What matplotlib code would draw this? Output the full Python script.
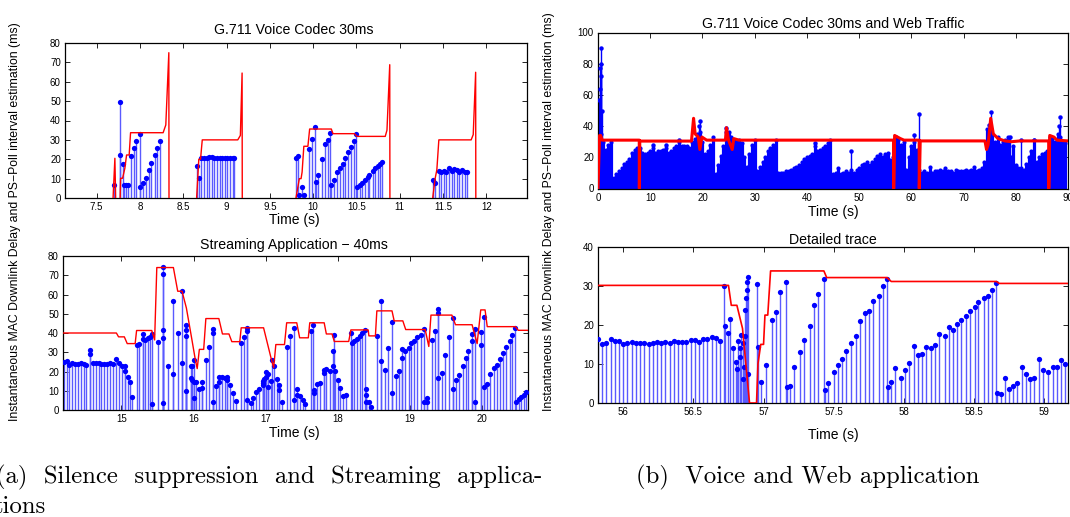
import matplotlib
matplotlib.use("Agg")
import matplotlib.pyplot as plt
from matplotlib.ticker import FuncFormatter, MultipleLocator
import numpy as np

plt.rcParams["font.family"] = ["Liberation Sans", "DejaVu Sans"]

# ---- (a) top: G.711 voice codec 30ms with silence suppression ----
voice_t = [7.70, 7.77, 7.775, 7.80, 7.82, 7.84, 7.86, 7.90, 7.93, 7.96, 8.00, 8.005,
           8.03, 8.07, 8.10, 8.13, 8.17, 8.20, 8.23,
           8.66, 8.68, 8.71, 8.74, 8.77, 8.80, 8.83, 8.86, 8.89, 8.92, 8.95, 8.98, 9.01, 9.04, 9.07, 9.09,
           9.80, 9.83, 9.84, 9.87, 9.90, 9.95, 9.99, 10.02, 10.03, 10.06, 10.10, 10.14, 10.17, 10.20,
           10.21, 10.24, 10.28, 10.31, 10.34, 10.37, 10.40, 10.44, 10.47, 10.50,
           10.51, 10.54, 10.57, 10.60, 10.63, 10.65, 10.69, 10.71, 10.75, 10.77, 10.79,
           11.38, 11.41, 11.45, 11.48, 11.51, 11.54, 11.57, 11.60, 11.63, 11.66, 11.69, 11.72, 11.75, 11.78]
voice_d = [6.7, 49.6, 22.4, 17.4, 6.7, 6.7, 6.7, 21.9, 26.0, 29.3, 33.2, 5.5,
           7.7, 10.3, 14.5, 18.2, 22.0, 25.8, 29.4,
           16.7, 10.5, 20.5, 20.7, 20.8, 21.0, 21.3, 20.9, 20.6, 20.9, 20.5, 20.4, 20.6, 20.5, 20.4, 20.6,
           20.8, 21.5, 1.7, 5.5, 1.7, 25.3, 30.6, 36.5, 8.1, 11.7, 20.0, 27.7, 30.0, 33.7,
           6.9, 9.1, 13.6, 15.3, 17.4, 20.5, 23.6, 26.2, 29.4, 33.2,
           5.5, 6.5, 7.9, 9.3, 10.7, 11.9, 13.8, 15.3, 16.7, 17.7, 18.8,
           9.3, 7.6, 13.8, 13.4, 13.9, 13.6, 15.5, 13.9, 15.0, 14.5, 13.3, 14.6, 13.4, 13.4]
voice_est_t = [7.69, 7.711, 7.72, np.nan,
               7.772, 7.777, 7.80, 7.826, 7.846, 7.876, 7.892, 8.268, 8.299, 8.334, 8.336, np.nan,
               8.655, 8.68, 8.70, 8.72, 9.13, 9.16, 9.18, 9.182, np.nan,
               9.802, 9.841, 9.861, 9.873, 9.893, 9.94, 9.96, 10.21, 10.23, 10.476, 10.508, 10.833,
               10.853, 10.885, 10.887, np.nan,
               11.381, 11.409, 11.429, 11.452, 11.825, 11.849, 11.877, 11.879]
voice_est_v = [0, 20.5, 0, np.nan,
               0, 10.2, 10.2, 15.3, 22.2, 22.2, 33.7, 33.7, 37.7, 75, 0, np.nan,
               0, 20, 20, 30, 30, 32.3, 64.5, 0, np.nan,
               0, 10, 10, 13.4, 26.7, 26.7, 35.6, 35.6, 33.2, 33.2, 31.8, 31.8,
               35, 68.8, 0, np.nan,
               0, 10, 14.6, 30, 30, 32.7, 64.9, 0]

# ---- (a) bottom: streaming application 40ms ----
stream_t = [14.21, 14.24, 14.27, 14.32, 14.36, 14.40, 14.44, 14.48, 14.51, 14.57, 14.57, 14.61, 14.65,
            14.69, 14.72, 14.76, 14.80, 14.84, 14.88, 14.93, 14.97, 15.01, 15.05, 15.05, 15.09, 15.12, 15.15,
            15.22, 15.25, 15.30, 15.30, 15.33, 15.37, 15.40, 15.42, 15.42, 15.50,
            15.57, 15.57, 15.57, 15.57, 15.57, 15.64, 15.72, 15.72, 15.78, 15.84, 15.84,
            15.90, 15.90, 15.90, 15.90, 15.96, 15.96, 15.98, 15.98, 16.01, 16.01, 16.01, 16.04, 16.08,
            16.11, 16.11, 16.17, 16.21, 16.27, 16.27, 16.27, 16.31, 16.35, 16.35, 16.39, 16.43,
            16.47, 16.47, 16.51, 16.55, 16.59,
            16.66, 16.70, 16.74, 16.74, 16.74, 16.79, 16.83, 16.87, 16.91, 16.96, 16.96, 16.96,
            16.98, 17.00, 17.00, 17.03, 17.03, 17.07, 17.09, 17.12, 17.16, 17.19, 17.19, 17.22,
            17.30, 17.34, 17.39, 17.39, 17.43, 17.43, 17.47, 17.51, 17.54,
            17.63, 17.66, 17.67, 17.67, 17.71, 17.75, 17.81, 17.81, 17.84, 17.89, 17.93, 17.93,
            17.95, 17.96, 18.00, 18.03, 18.07, 18.11,
            18.18, 18.19, 18.23, 18.26, 18.30, 18.34, 18.38, 18.39, 18.39, 18.39, 18.43, 18.46,
            18.54, 18.60, 18.60, 18.65, 18.70, 18.75, 18.75, 18.80, 18.85, 18.89, 18.89,
            18.93, 18.98, 19.02, 19.06, 19.10, 19.15, 19.19, 19.19, 19.23, 19.23,
            19.30, 19.34, 19.39, 19.39, 19.39, 19.44, 19.49, 19.54, 19.59, 19.59,
            19.64, 19.68, 19.73, 19.77, 19.81, 19.86, 19.86, 19.90, 19.90,
            19.98, 19.98, 20.03, 20.03, 20.07, 20.11, 20.16, 20.20, 20.25, 20.29,
            20.33, 20.38, 20.42, 20.46, 20.47, 20.51, 20.54, 20.58, 20.61]
stream_d = [24.9, 25.4, 23.6, 24.2, 23.8, 23.8, 24.2, 23.8, 23.6, 31.1, 29.3, 24.5, 24.5,
            24.2, 23.8, 23.8, 24.0, 24.2, 23.8, 26.3, 24.5, 23.1, 23.1, 20.4, 16.9, 14.6, 6.6,
            33.8, 34.3, 39.6, 37.0, 36.4, 37.2, 37.9, 39.5, 3.2, 35.4,
            74.1, 70.8, 41.4, 37.3, 3.6, 22.8, 56.5, 18.7, 40.0, 61.9, 24.4,
            44.3, 41.4, 38.6, 9.8, 23.1, 16.7, 23.1, 15.8, 25.8, 14.6, 6.2, 14.6, 10.8,
            11.6, 14.8, 25.8, 32.7, 42.1, 40.0, 4.4, 12.4, 17.4, 14.8, 17.1, 16.4,
            17.2, 15.6, 13.0, 8.9, 4.8,
            34.8, 38.0, 42.8, 40.9, 5.3, 3.4, 6.2, 9.1, 10.8, 15.3, 13.9, 12.8,
            16.0, 19.6, 16.9, 18.7, 11.9, 14.9, 25.8, 22.6, 16.0, 13.0, 10.3, 4.1,
            32.9, 38.2, 42.5, 5.3, 10.7, 7.6, 7.5, 5.0, 3.0,
            40.9, 43.9, 10.3, 8.9, 13.3, 13.9, 21.0, 19.2, 21.3, 20.3, 23.1, 30.8,
            38.8, 20.3, 15.6, 11.6, 7.1, 7.6,
            40.0, 35.0, 35.6, 37.0, 38.2, 40.2, 41.8, 10.7, 7.6, 4.4, 4.4, 1.6,
            38.4, 56.5, 25.4, 20.8, 32.2, 8.9, 45.9, 17.8, 20.4, 31.5, 27.0,
            30.9, 32.4, 34.7, 35.7, 38.0, 38.8, 42.3, 4.1, 3.9, 6.2,
            36.3, 40.9, 52.4, 50.3, 16.4, 19.0, 28.4, 38.0, 48.0, 11.0,
            15.8, 18.3, 22.6, 27.0, 30.9, 35.9, 39.6, 42.1, 4.4,
            40.4, 33.8, 48.4, 11.9, 13.3, 18.7, 21.7, 23.3, 26.3, 29.5,
            32.5, 35.6, 38.9, 42.5, 4.4, 5.7, 6.8, 7.8, 9.2]
stream_est_t = [14.19, 14.93, 14.96, 15.04, 15.08, 15.19, 15.21, 15.42, 15.46, 15.49, 15.72, 15.78,
                15.84, 15.90, 15.97, 16.02, 16.05, 16.08, 16.14, 16.17, 16.35, 16.40, 16.49, 16.53,
                16.64, 16.66, 16.97, 17.08, 17.11, 17.14, 17.26, 17.29, 17.43, 17.47, 17.59, 17.61,
                17.81, 17.84, 17.92, 17.95, 18.15, 18.18, 18.42, 18.43, 18.52, 18.54, 18.75, 18.78,
                18.90, 18.94, 19.21, 19.26, 19.29, 19.58, 19.63, 19.86, 19.93, 19.98, 20.04, 20.07,
                20.46, 20.50, 20.64]
stream_est_v = [40, 40, 38, 38, 34.5, 34.5, 41.3, 41.3, 36.4, 74, 74, 61.7,
                61.7, 53, 38, 27, 21.5, 31.5, 31.5, 47.5, 47.5, 39.5, 39.5, 35.5,
                35.5, 42.7, 42.7, 26, 22, 34, 34, 45.3, 45.3, 37.5, 37.5, 45.3,
                45.3, 39.5, 39.5, 35.6, 35.6, 41.6, 41.6, 38.5, 38.5, 51.5, 51.5, 46.3,
                46.3, 41.8, 41.8, 33, 49.3, 49.3, 44.3, 44.3, 34.5, 52, 52, 43.3,
                43.3, 41.4, 41.4]

# ---- (b) top: voice + web traffic, 90 s (delay envelope read every 0.5 s) ----
web_t = np.arange(0, 90, 0.5)
web_d = [20, 35, 30, 25, 28, 30, 7, 9, 11, 13,
         16, 17, 19, 23, 25, 26, 26, 23, 22, 23,
         24, 26, 23, 24, 24, 25, 26, 23, 24, 26,
         27, 30, 27, 27, 27, 26, 30, 32, 35, 36,
         30, 22, 24, 28, 33, 9, 15, 21, 27, 36,
         36, 33, 31, 30, 31, 29, 20, 14, 22, 28,
         31, 11, 14, 17, 20, 24, 26, 28, 31, 10,
         10, 10, 11, 11, 12, 13, 14, 15, 17, 19,
         20, 21, 22, 27, 24, 25, 26, 27, 29, 31,
         9, 10, 13, 9, 10, 11, 10, 12, 10, 12,
         13, 15, 16, 17, 15, 17, 19, 21, 22, 20,
         22, 23, 18, 20, 33, 31, 28, 30, 12, 20,
         27, 30, 25, 12, 10, 11, 10, 14, 10, 11,
         11, 12, 11, 13, 11, 11, 10, 12, 11, 11,
         11, 12, 11, 12, 14, 11, 12, 13, 17, 38,
         39, 35, 30, 33, 28, 30, 31, 33, 20, 27,
         15, 13, 13, 12, 16, 20, 24, 31, 17, 20,
         22, 23, 24, 33, 32, 30, 35, 33, 30, 29]
web_peak_t = [0.2, 0.3, 0.4, 0.5, 0.55, 0.6, 0.7, 10.5, 13.0, 15.5, 19.3, 19.6, 24.6,
              41.5, 48.5, 60.5, 61.5, 74.8, 75.2, 78.8, 81.0, 83.4, 88.3, 88.4]
web_peak_d = [57, 64, 77, 90, 80, 72, 50, 28, 28, 31, 40, 43, 39,
              29, 24, 34, 48, 41, 49, 33, 31, 31, 40, 46]
web_est_t = [0.0, 0.3, 0.5, 0.8, 7.9, 7.92, 8.0, 17.9, 18.3, 18.6, 19.2, 19.5, 19.9, 20.8,
             24.4, 24.6, 25.0, 25.7, 26.0, 27.0, 56.6, 56.62, 56.8, 57.9, 58.6, 61.5, 61.52, 61.7,
             74.1, 74.4, 74.7, 75.2, 75.7, 76.6, 77.9, 79.2, 80.8, 86.3, 86.32, 86.5, 87.3, 87.9, 90.0]
web_est_v = [0, 34, 34, 31, 31, 0, 30.4, 30.4, 45, 35, 33, 25, 33, 31,
             31, 39, 31, 25, 32, 31, 31, 0, 34, 32, 31, 31, 0, 30.5,
             30.5, 25, 28, 45, 35, 32, 30.5, 30, 30.5, 30.5, 0, 34, 33, 31, 30.5]

# ---- (b) bottom: detailed trace ----
trace_t = [55.82, 55.85, 55.88, 55.91, 55.94, 55.97, 56.00, 56.03, 56.06, 56.09, 56.12, 56.15,
           56.18, 56.21, 56.24, 56.27, 56.30, 56.33, 56.36, 56.39, 56.42, 56.45, 56.48, 56.51,
           56.54, 56.57, 56.60, 56.63, 56.66, 56.69,
           56.72, 56.725, 56.75, 56.76, 56.78, 56.805, 56.81, 56.82, 56.83, 56.835, 56.84,
           56.85, 56.853, 56.86, 56.865, 56.87, 56.875, 56.88, 56.885, 56.888, 56.89,
           56.95, 56.96, 56.98, 57.02, 57.06, 57.09, 57.12, 57.16, 57.165, 57.19, 57.22, 57.26,
           57.29, 57.33, 57.36, 57.39, 57.43, 57.435, 57.46, 57.50, 57.53, 57.56, 57.59, 57.62,
           57.66, 57.69, 57.72, 57.75, 57.78, 57.82, 57.85, 57.88, 57.885, 57.91, 57.94, 57.98,
           58.01, 58.04, 58.07, 58.10, 58.13, 58.16, 58.19, 58.22, 58.25, 58.29, 58.32, 58.35,
           58.38, 58.41, 58.44, 58.47, 58.51, 58.53, 58.57, 58.60, 58.63, 58.66, 58.665, 58.69,
           58.72, 58.75, 58.78, 58.81, 58.84, 58.87, 58.90, 58.93, 58.96, 58.99, 59.03, 59.06,
           59.09, 59.12, 59.15]
trace_d = [16.5, 15.0, 15.3, 16.4, 15.9, 15.9, 15.1, 15.4, 15.6, 15.4, 15.4, 15.4,
           15.1, 15.3, 15.6, 15.4, 15.6, 15.4, 15.9, 15.7, 15.7, 15.7, 16.1, 16.2,
           15.7, 16.5, 16.3, 16.8, 16.6, 15.9,
           30.0, 19.8, 18.0, 21.4, 14.2, 10.4, 8.8, 15.9, 14.1, 11.8, 17.4,
           15.3, 6.2, 9.3, 17.1, 23.7, 26.8, 28.8, 31.0, 32.2, 7.5,
           30.4, 14.4, 5.4, 9.6, 21.2, 23.3, 28.3, 31.0, 4.1, 4.4, 9.3, 13.1,
           16.1, 19.7, 25.1, 28.0, 31.7, 3.3, 5.1, 7.9, 9.8, 11.2, 13.4, 15.4,
           17.2, 21.0, 23.0, 23.5, 26.1, 27.5, 29.9, 31.7, 4.0, 5.3, 9.0, 6.4,
           8.4, 10.2, 14.6, 12.2, 12.5, 14.4, 14.1, 14.8, 17.7, 17.1, 19.5, 18.8,
           20.3, 21.2, 22.3, 23.6, 24.6, 25.8, 26.8, 27.4, 29.0, 30.6, 2.6, 2.4,
           6.5, 3.5, 4.3, 5.2, 9.1, 7.4, 6.1, 6.5, 11.2, 8.4, 8.0, 9.3,
           9.2, 10.9, 10.0]
trace_est_t = [55.82, 56.75, 56.77, 56.81, 56.85, 56.90, 56.95, 56.96, 56.98, 57.00, 57.01, 57.03,
               57.05, 57.43, 57.45, 57.88, 57.91, 58.66, 58.68, 59.17]
trace_est_v = [30.1, 30.1, 25, 25, 19.1, 0, 0, 10, 15, 15, 22.5, 22.5,
               33.8, 33.8, 32.1, 32.1, 31.1, 31.1, 30.6, 30.6]

W, H = 1070, 517
fig = plt.figure(figsize=(W / 100, H / 100), dpi=100)


def add_ax(left, top, right, bottom):
    return fig.add_axes([left / W, 1 - bottom / H, (right - left) / W, (bottom - top) / H])


def style(ax, xlim, ylim, xstep, ystep):
    ax.set_xlim(*xlim)
    ax.set_ylim(*ylim)
    ax.xaxis.set_major_locator(MultipleLocator(xstep))
    ax.yaxis.set_major_locator(MultipleLocator(ystep))
    fmt = FuncFormatter(lambda v, p: f"{v:g}")
    ax.xaxis.set_major_formatter(fmt)
    ax.yaxis.set_major_formatter(fmt)
    ax.tick_params(direction="in", length=3.5, width=0.6, top=True, right=True,
                   labelsize=7, pad=3)
    for s in ax.spines.values():
        s.set_linewidth(0.9)


def stems(ax, t, d, lw=1.0, ms=3.8, lc="#5a5aff"):
    ax.vlines(t, 0, d, colors=lc, lw=lw, zorder=2)
    ax.plot(t, d, "o", color="blue", ms=ms, mec="none", zorder=3)


def label_axes(ax, cx, title, ty, xy):
    fig.text(cx / W, 1 - ty / H, title, ha="center", va="center", fontsize=10.2)
    fig.text(cx / W, 1 - xy / H, "Time (s)", ha="center", va="center", fontsize=10)


# (a) top
ax1 = add_ax(65, 43, 527, 198)
stems(ax1, voice_t, voice_d)
ax1.plot(voice_est_t, voice_est_v, color="red", lw=1.0, zorder=4)
style(ax1, (7.135, 12.47), (0, 80), 0.5, 10)
label_axes(ax1, 294, "G.711 Voice Codec 30ms", 30, 220)

# (a) bottom
ax2 = add_ax(63, 256, 528, 410)
stems(ax2, stream_t, stream_d)
ax2.plot(stream_est_t, stream_est_v, color="red", lw=1.0, zorder=4)
style(ax2, (14.19, 20.635), (0, 80), 1, 10)
label_axes(ax2, 294, "Streaming Application \u2212 40ms", 245, 433)

# (b) top
ax3 = add_ax(598, 32.5, 1068, 188.5)
stems(ax3, web_t, web_d, lw=2.3, ms=3.0, lc="blue")
stems(ax3, web_peak_t, web_peak_d, lw=1.0, ms=3.2, lc="blue")
ax3.plot(web_est_t, web_est_v, color="red", lw=2.2, zorder=4)
style(ax3, (0, 90), (0, 100), 10, 20)
label_axes(ax3, 833, "G.711 Voice Codec 30ms and Web Traffic", 24, 212)

# (b) bottom
ax4 = add_ax(598, 246.7, 1068, 403)
stems(ax4, trace_t, trace_d)
ax4.plot(trace_est_t, trace_est_v, color="red", lw=1.2, zorder=4)
style(ax4, (55.82, 59.17), (0, 40), 0.5, 10)
label_axes(ax4, 833, "Detailed trace", 240, 435)

ylab = "Instantaneous MAC Downlink Delay and PS\u2212Poll interval estimation (ms)"
fig.text(15 / W, 1 - 222 / H, ylab, rotation=90, ha="center", va="center", fontsize=8.8)
fig.text(549 / W, 1 - 212 / H, ylab, rotation=90, ha="center", va="center", fontsize=8.8)

fig.text(-4 / W, 1 - 477 / H, "(a)  Silence  suppression  and  Streaming  applica-",
         ha="left", va="center", fontsize=17.8, family="cmr10")
fig.text(-6 / W, 1 - 507 / H, "tions", ha="left", va="center", fontsize=17.8, family="cmr10")
fig.text(808 / W, 1 - 477 / H, "(b)  Voice and Web application",
         ha="center", va="center", fontsize=17.8, family="cmr10")

fig.savefig("out.png", dpi=100)
